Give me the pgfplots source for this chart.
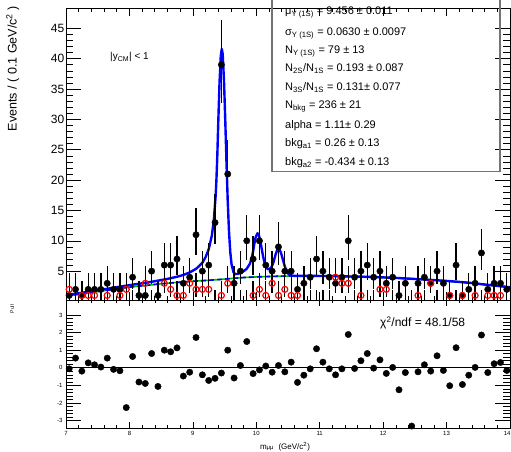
\documentclass[border=0pt]{standalone}
\usepackage{pgfplots}
\pgfplotsset{compat=1.18}
\usepackage{pgfplotstable}
\usepackage{fontspec}
\setmainfont{Liberation Sans}

\definecolor{fitblue}{RGB}{0,0,255}
\definecolor{bkggreen}{RGB}{0,190,0}

% opposite-sign pairs: bin centre, counts, Poisson errors (lower, upper)
\pgfplotstableread{
x n em ep
7.05 1 0.827 2.299
7.15 2 1.292 2.637
7.25 1 0.827 2.299
7.35 2 1.292 2.637
7.45 2 1.292 2.637
7.55 2 1.292 2.637
7.65 3 1.633 2.918
7.75 2 1.292 2.637
7.85 2 1.292 2.637
7.95 0 0 1.841
8.05 4 1.914 3.162
8.15 1 0.827 2.299
8.25 1 0.827 2.299
8.35 5 2.159 3.382
8.45 1 0.827 2.299
8.55 6 2.379 3.583
8.65 6 2.379 3.583
8.75 7 2.580 3.770
8.85 3 1.633 2.918
8.95 4 1.914 3.162
9.05 11 3.265 4.416
9.15 5 2.159 3.382
9.25 6 2.379 3.583
9.35 13 3.558 4.697
9.45 39 6.218 7.298
9.55 21 4.545 5.655
9.65 3 1.633 2.918
9.75 5 2.159 3.382
9.85 10 3.108 4.266
9.95 7 2.580 3.770
10.05 10 3.108 4.266
10.15 6 2.379 3.583
10.25 5 2.159 3.382
10.35 9 2.943 4.110
10.45 5 2.159 3.382
10.55 5 2.159 3.382
10.65 2 1.292 2.637
10.75 3 1.633 2.918
10.85 4 1.914 3.162
10.95 7 2.580 3.770
11.05 5 2.159 3.382
11.15 4 1.914 3.162
11.25 3 1.633 2.918
11.35 4 1.914 3.162
11.45 10 3.108 4.266
11.55 4 1.914 3.162
11.65 5 2.159 3.382
11.75 6 2.379 3.583
11.85 4 1.914 3.162
11.95 5 2.159 3.382
12.05 3 1.633 2.918
12.15 4 1.914 3.162
12.25 1 0.827 2.299
12.35 3 1.633 2.918
12.45 0 0 1.841
12.55 3 1.633 2.918
12.65 4 1.914 3.162
12.75 3 1.633 2.918
12.85 5 2.159 3.382
12.95 3 1.633 2.918
13.05 1 0.827 2.299
13.15 6 2.379 3.583
13.25 1 0.827 2.299
13.35 2 1.292 2.637
13.45 3 1.633 2.918
13.55 8 2.768 3.945
13.65 2 1.292 2.637
13.75 3 1.633 2.918
13.85 3 1.633 2.918
13.95 2 1.292 2.637
}\dataos

% like-sign pairs
\pgfplotstableread{
x n em ep
7.05 2 1.292 2.637
7.15 0 0 1.841
7.25 1 0.827 2.299
7.35 1 0.827 2.299
7.45 1 0.827 2.299
7.55 0 0 1.841
7.65 1 0.827 2.299
7.75 0 0 1.841
7.85 1 0.827 2.299
7.95 2 1.292 2.637
8.05 0 0 1.841
8.15 0 0 1.841
8.25 3 1.633 2.918
8.35 0 0 1.841
8.45 0 0 1.841
8.55 3 1.633 2.918
8.65 2 1.292 2.637
8.75 1 0.827 2.299
8.85 1 0.827 2.299
8.95 3 1.633 2.918
9.05 2 1.292 2.637
9.15 2 1.292 2.637
9.25 2 1.292 2.637
9.35 0 0 1.841
9.45 1 0.827 2.299
9.55 3 1.633 2.918
9.65 0 0 1.841
9.75 0 0 1.841
9.85 0 0 1.841
9.95 1 0.827 2.299
10.05 2 1.292 2.637
10.15 1 0.827 2.299
10.25 3 1.633 2.918
10.35 1 0.827 2.299
10.45 2 1.292 2.637
10.55 1 0.827 2.299
10.65 1 0.827 2.299
10.75 0 0 1.841
10.85 0 0 1.841
10.95 0 0 1.841
11.05 0 0 1.841
11.15 0 0 1.841
11.25 4 1.914 3.162
11.35 3 1.633 2.918
11.45 3 1.633 2.918
11.55 0 0 1.841
11.65 1 0.827 2.299
11.75 0 0 1.841
11.85 0 0 1.841
11.95 2 1.292 2.637
12.05 2 1.292 2.637
12.15 0 0 1.841
12.25 0 0 1.841
12.35 0 0 1.841
12.45 0 0 1.841
12.55 1 0.827 2.299
12.65 0 0 1.841
12.75 3 1.633 2.918
12.85 0 0 1.841
12.95 0 0 1.841
13.05 1 0.827 2.299
13.15 0 0 1.841
13.25 1 0.827 2.299
13.35 0 0 1.841
13.45 1 0.827 2.299
13.55 0 0 1.841
13.65 1 0.827 2.299
13.75 1 0.827 2.299
13.85 1 0.827 2.299
13.95 0 0 1.841
}\datass

\pgfplotstableread{
x pull
7.05 -0.06
7.15 0.55
7.25 -0.19
7.35 0.28
7.45 0.17
7.55 0.04
7.65 0.55
7.75 -0.09
7.85 -0.17
7.95 -2.26
8.05 0.64
8.15 -0.81
8.25 -0.89
8.35 0.81
8.45 -1.06
8.55 1.00
8.65 0.91
8.75 1.13
8.85 -0.47
8.95 -0.25
9.05 1.72
9.15 -0.40
9.25 -0.72
9.35 -0.60
9.45 -0.30
9.55 1.00
9.65 -0.58
9.75 0.13
9.85 1.49
9.95 -0.33
10.05 -0.12
10.15 0.10
10.25 -0.25
10.35 0.13
10.45 -0.23
10.55 0.32
10.65 -0.83
10.75 -0.42
10.85 -0.06
10.95 1.08
11.05 0.32
11.15 -0.06
11.25 -0.40
11.35 -0.06
11.45 1.89
11.55 -0.04
11.65 0.40
11.75 0.81
11.85 -0.02
11.95 0.45
12.05 -0.32
12.15 0.02
12.25 -1.25
12.35 -0.27
12.45 -3.31
12.55 -0.23
12.65 0.17
12.75 -0.19
12.85 0.68
12.95 -0.15
13.05 -1.02
13.15 1.14
13.25 -0.95
13.35 -0.42
13.45 0.02
13.55 1.86
13.65 -0.27
13.75 0.23
13.85 0.30
13.95 -0.15
}\pulls

\pgfplotsset{
  rootaxis/.style={
    scale only axis, width=444pt,
    xmin=7, xmax=14,
    axis line style={line width=0.7pt},
    tick align=inside,
    every tick/.style={black, line width=0.6pt},
    /pgf/number format/assume math mode=true,
    axis on top,
  },
  errs/.style={error bars/.cd, y dir=both, y explicit, error mark=none,
    error bar style={black, line width=1.3pt}},
}

\newcommand\boxfont{\fontsize{11}{13}\selectfont}

\begin{document}
\begin{tikzpicture}[x=1pt,y=1pt]
\path[use as bounding box] (-66,-24) rectangle (445,428);

\begin{axis}[rootaxis, at={(0pt,128pt)}, anchor=south west, height=292pt,
  ymin=0.25, ymax=48.35,
  xtick={7,...,14}, xticklabels={}, minor x tick num=4,
  ytick={5,10,...,45}, minor y tick num=4,
  tick label style={font=\fontsize{12}{12}\selectfont},
  yticklabel style={inner xsep=1.5pt},
  xtick style={/pgfplots/major tick length=8pt, /pgfplots/minor tick length=4pt},
  ytick style={/pgfplots/major tick length=15pt, /pgfplots/minor tick length=7.5pt},
]
% background component
\addplot[bkggreen, line width=1.6pt] coordinates {
(7.0,0.92) (7.25,1.26) (7.45,1.56) (7.65,1.86) (7.85,2.15) (8.05,2.43)
(8.25,2.63) (8.45,2.87) (8.65,3.06) (8.85,3.23) (9.05,3.37) (9.25,3.50)
(9.45,3.65) (9.65,3.83) (9.8,3.95) (10.0,4.05) (10.2,4.12) (10.4,4.18)
(10.6,4.21) (10.8,4.22) (11.0,4.21) (11.2,4.18) (11.4,4.14) (11.6,4.10)
(11.8,4.05) (12.0,3.97) (12.2,3.89) (12.4,3.77) (12.6,3.66) (12.8,3.53)
(13.0,3.39) (13.2,3.23) (13.4,3.04) (13.6,2.80) (13.8,2.57) (14.0,2.35)};
\addplot[fitblue, line width=1.6pt, dash pattern=on 5pt off 3pt] coordinates {
(7.0,0.92) (7.25,1.26) (7.45,1.56) (7.65,1.86) (7.85,2.15) (8.05,2.43)
(8.25,2.63) (8.45,2.87) (8.65,3.06) (8.85,3.23) (9.05,3.37) (9.25,3.50)
(9.45,3.65) (9.65,3.83) (9.8,3.95) (10.0,4.05) (10.2,4.12) (10.4,4.18)
(10.6,4.21) (10.8,4.22) (11.0,4.21) (11.2,4.18) (11.4,4.14) (11.6,4.10)
(11.8,4.05) (12.0,3.97) (12.2,3.89) (12.4,3.77) (12.6,3.66) (12.8,3.53)
(13.0,3.39) (13.2,3.23) (13.4,3.04) (13.6,2.80) (13.8,2.57) (14.0,2.35)};
% total fit
\addplot[fitblue, line width=2.4pt, line join=round] coordinates {
(7.0,1.08) (7.05,1.14) (7.15,1.29) (7.25,1.44) (7.35,1.62) (7.45,1.78)
(7.55,1.95) (7.65,2.10) (7.75,2.27) (7.85,2.44) (7.95,2.61) (8.05,2.78)
(8.15,2.92) (8.25,3.07) (8.35,3.25) (8.45,3.44) (8.55,3.63) (8.65,3.84)
(8.75,4.08) (8.85,4.37) (8.95,4.79) (9.05,5.38) (9.1,5.85) (9.15,6.38)
(9.2,7.3) (9.25,8.6) (9.3,10.9) (9.33,13.35) (9.36,17.5) (9.373,20.4)
(9.386,24.2) (9.40,29.3) (9.42,35.9) (9.44,40.4) (9.456,41.6) (9.47,40.8)
(9.49,36.6) (9.51,30.2) (9.53,23.0) (9.55,16.5) (9.57,11.5) (9.59,8.12)
(9.61,6.15) (9.64,4.84) (9.67,4.52) (9.7,4.53) (9.75,4.72) (9.8,4.99)
(9.85,5.40) (9.9,6.24) (9.93,7.2) (9.95,8.3) (9.97,9.55) (9.99,10.58)
(10.019,11.25) (10.04,10.95) (10.06,10.14) (10.08,9.01) (10.10,7.84)
(10.12,6.83) (10.15,5.78) (10.18,5.34) (10.21,5.34) (10.24,5.68)
(10.27,6.43) (10.29,7.21) (10.31,7.94) (10.33,8.46) (10.351,8.67)
(10.37,8.50) (10.39,7.99) (10.41,7.29) (10.43,6.51) (10.45,5.78)
(10.48,4.97) (10.51,4.50) (10.55,4.30) (10.6,4.22) (10.8,4.22) (11.0,4.21)
(11.2,4.18) (11.4,4.14) (11.6,4.10) (11.8,4.05) (12.0,3.97) (12.2,3.89)
(12.4,3.77) (12.6,3.66) (12.8,3.53) (13.0,3.39) (13.2,3.23) (13.4,3.04)
(13.6,2.80) (13.8,2.57) (14.0,2.35)};
% data
\addplot[only marks, mark=*, mark size=3.2pt, black, errs]
  table[x=x, y=n, y error plus=ep, y error minus=em] {\dataos};
\addplot[only marks, mark=o, mark size=3pt, red, mark options={line width=1.2pt}, errs]
  table[x=x, y=n, y error plus=ep, y error minus=em] {\datass};
\end{axis}

\begin{axis}[rootaxis, at={(0pt,0pt)}, anchor=south west, height=128pt,
  ymin=-3.42, ymax=3.85,
  xtick={7,...,14}, minor x tick num=4,
  xticklabels={7,8,9,10,11,12,13,\makebox[0pt][r]{14\hspace{-0.5pt}}},
  ytick={-3,...,3}, minor y tick num=4,
  tick label style={font=\fontsize{6}{6}\selectfont},
  xtick style={/pgfplots/major tick length=6pt, /pgfplots/minor tick length=3pt},
  ytick style={/pgfplots/major tick length=15pt, /pgfplots/minor tick length=7pt},
]
\addplot[black, line width=0.9pt] coordinates {(7,0) (14,0)};
\addplot[only marks, mark=*, mark size=3.2pt, black] table[x=x, y=pull] {\pulls};
\end{axis}

% fit results box
\draw[black!55, line width=1.2pt] (206,436) rectangle (434,256.3);
\node[anchor=base west, font=\boxfont, inner sep=0] at (219,413) {μ\textsubscript{Y (1S)} = 9.456 ± 0.011};
\node[anchor=base west, font=\boxfont, inner sep=0] at (219,392) {σ\textsubscript{Y (1S)} = 0.0630 ± 0.0097};
\node[anchor=base west, font=\boxfont, inner sep=0] at (219,374) {N\textsubscript{Y (1S)} = 79 ± 13};
\node[anchor=base west, font=\boxfont, inner sep=0] at (219,356) {N\textsubscript{2S}/N\textsubscript{1S} = 0.193 ± 0.087};
\node[anchor=base west, font=\boxfont, inner sep=0] at (219,337) {N\textsubscript{3S}/N\textsubscript{1S} = 0.131± 0.077};
\node[anchor=base west, font=\boxfont, inner sep=0] at (219,319) {N\textsubscript{bkg} = 236 ± 21};
\node[anchor=base west, font=\boxfont, inner sep=0] at (219,299) {alpha = 1.11± 0.29};
\node[anchor=base west, font=\boxfont, inner sep=0] at (219,281) {bkg\textsubscript{a1} = 0.26 ± 0.13};
\node[anchor=base west, font=\boxfont, inner sep=0] at (219,262) {bkg\textsubscript{a2} = -0.434 ± 0.13};

\node[anchor=base west, font=\fontsize{10}{10}\selectfont, inner sep=0] at (44,368) {|y\textsubscript{CM}| < 1};
\node[anchor=base west, font=\fontsize{12}{12}\selectfont, inner sep=0] at (314,101) {χ\textsuperscript{2}/ndf = 48.1/58};

% axis titles
\node[rotate=90, anchor=base east, font=\fontsize{12.5}{12.5}\selectfont, inner sep=0]
  at (-49.3,422) {Events / ( 0.1 GeV/c\textsuperscript{2} )};
\node[rotate=90, font=\fontsize{5}{5}\selectfont, inner sep=0] at (-54,119) {Pull};
\node[anchor=base, font=\fontsize{8}{8}\selectfont, inner sep=0] at (219,-21)
  {m\textsubscript{μμ} \ (GeV/c\textsuperscript{2})};
\end{tikzpicture}
\end{document}
